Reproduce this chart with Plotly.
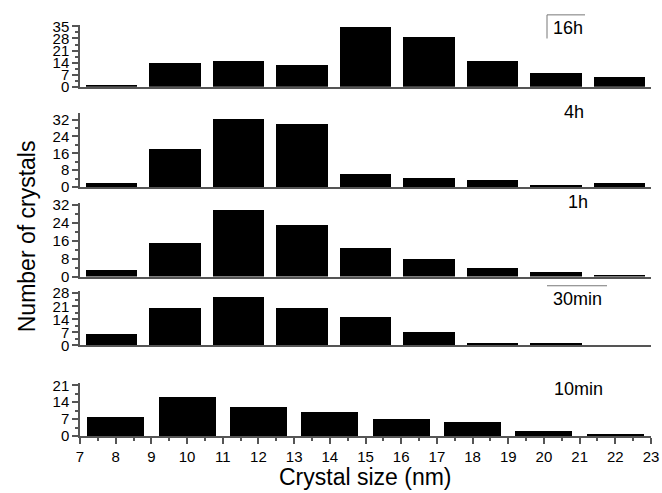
import plotly.graph_objects as go

# Data
panel_labels = ["16h", "4h", "1h", "30min", "10min"]
upper_centers = [7 + 16 / 9 * (i + 0.5) for i in range(9)]  # 9 bins across 7..23
bottom_centers = [8, 10, 12, 14, 16, 18, 20, 22]
counts_16h = [1, 14, 15, 13, 35, 29, 15, 8, 6]
counts_4h = [2, 18, 32, 30, 6, 4, 3, 1, 2]
counts_1h = [3, 15, 30, 23, 13, 8, 4, 2, 1]
counts_30min = [6, 20, 26, 20, 15, 7, 1, 1, 0]
counts_10min = [8, 16, 12, 10, 7, 6, 2, 1]
ytick_vals = [
    [0, 7, 14, 21, 28, 35],
    [0, 8, 16, 24, 32],
    [0, 8, 16, 24, 32],
    [0, 7, 14, 21, 28],
    [0, 7, 14, 21],
]
xtick_vals = list(range(7, 24))

W, H = 662, 493
ML, MR, MT, MB = 80, 11, 0, 57
PW, PH = W - ML - MR, H - MT - MB

def py(p):
    return (PH - p) / PH

def px(p):
    return (p - ML) / PW

panels = [
    (counts_16h, upper_centers, 16 / 9 * 0.81, (18, 81), 36, 3.5),
    (counts_4h, upper_centers, 16 / 9 * 0.81, (108, 183), 35, 4),
    (counts_1h, upper_centers, 16 / 9 * 0.81, (199, 274), 33, 4),
    (counts_30min, upper_centers, 16 / 9 * 0.81, (289, 344), 29, 3.5),
    (counts_10min, bottom_centers, 1.6, (382, 436), 22, 3.5),
]

fig = go.Figure()
font = "Arial, Liberation Sans, sans-serif"
axcol = "#555555"

for i, (vals, xs, w, (top, bot), ymax, minor) in enumerate(panels):
    n = i + 1
    xa = "x" if n == 1 else f"x{n}"
    ya = "y" if n == 1 else f"y{n}"
    fig.add_trace(go.Bar(x=xs, y=vals, width=w, marker=dict(color="black", line=dict(width=0)),
                         xaxis=xa, yaxis=ya, showlegend=False))
    xkey = "xaxis" if n == 1 else f"xaxis{n}"
    ykey = "yaxis" if n == 1 else f"yaxis{n}"
    last = (n == 5)
    xdict = dict(domain=[0, 1], range=[7, 23], anchor=ya, showline=True, linecolor=axcol, linewidth=1.5,
                 showgrid=False, zeroline=False, fixedrange=True)
    if last:
        xdict.update(tickvals=xtick_vals, ticks="outside", ticklen=6, tickcolor=axcol, tickwidth=1.5,
                     tickfont=dict(family=font, size=15, color="black"),
                     minor=dict(dtick=0.5, tick0=7, ticks="outside", ticklen=3, tickcolor=axcol, tickwidth=1.5))
    else:
        xdict.update(showticklabels=False, ticks="")
    fig.layout[xkey] = xdict
    fig.layout[ykey] = dict(domain=[py(bot), py(top)], range=[0, ymax], anchor=xa, showline=True,
                            linecolor=axcol, linewidth=1.5, showgrid=False, zeroline=False,
                            tickvals=ytick_vals[i], ticks="outside", ticklen=6, tickcolor=axcol, tickwidth=1.5,
                            tickfont=dict(family=font, size=15, color="black"),
                            minor=dict(dtick=minor, tick0=0, ticks="outside", ticklen=3, tickcolor=axcol, tickwidth=1.5),
                            fixedrange=True)

label_pos = [(551, 21.7), (562, 107), (566, 198), (551, 296.7), (552, 388.3)]
for lab, (lx, ly) in zip(panel_labels, label_pos):
    fig.add_annotation(text=lab, x=px(lx), y=py(ly), xref="paper", yref="paper", xanchor="left",
                       yanchor="middle", showarrow=False, font=dict(family=font, size=18, color="black"))

# partial frame lines around some labels
fig.add_shape(type="line", xref="paper", yref="paper", x0=px(547), x1=px(547), y0=py(8), y1=py(32),
              line=dict(color="#777777", width=1))
fig.add_shape(type="line", xref="paper", yref="paper", x0=px(547), x1=px(585), y0=py(8), y1=py(8),
              line=dict(color="#777777", width=1))
fig.add_shape(type="line", xref="paper", yref="paper", x0=px(547), x1=px(607), y0=py(283.3), y1=py(283.3),
              line=dict(color="#777777", width=1))

fig.add_annotation(text="Crystal size (nm)", x=px(365), y=py(478), xref="paper", yref="paper",
                   xanchor="center", yanchor="middle", showarrow=False,
                   font=dict(family=font, size=23, color="black"))
fig.add_annotation(text="Number of crystals", x=px(27), y=py(233), xref="paper", yref="paper",
                   xanchor="center", yanchor="middle", showarrow=False, textangle=-90,
                   font=dict(family=font, size=23, color="black"))

fig.update_layout(width=W, height=H, margin=dict(l=ML, r=MR, t=MT, b=MB),
                  paper_bgcolor="white", plot_bgcolor="white", bargap=0)
fig.write_html("out.html")
